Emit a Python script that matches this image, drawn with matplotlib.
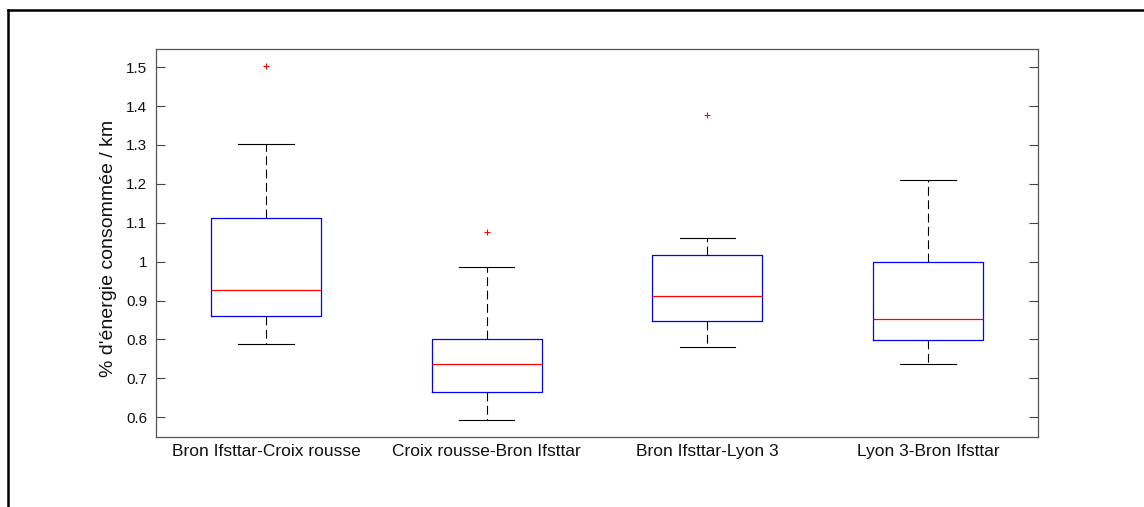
import matplotlib
matplotlib.use("Agg")
import matplotlib.pyplot as plt
from matplotlib.lines import Line2D

plt.rcParams['font.family'] = ['Liberation Sans', 'DejaVu Sans']

# Trajets et statistiques des boîtes (% d'énergie consommée / km)
trajets = ["Bron Ifsttar-Croix rousse", "Croix rousse-Bron Ifsttar",
           "Bron Ifsttar-Lyon 3", "Lyon 3-Bron Ifsttar"]
moustache_basse = [0.789, 0.594, 0.781, 0.737]
quartile_1 = [0.861, 0.666, 0.848, 0.798]
mediane = [0.927, 0.737, 0.911, 0.853]
quartile_3 = [1.113, 0.801, 1.018, 1.000]
moustache_haute = [1.302, 0.986, 1.062, 1.209]
valeurs_aberrantes = [[1.503], [1.077], [1.377], []]
yticks = [0.6, 0.7, 0.8, 0.9, 1.0, 1.1, 1.2, 1.3, 1.4, 1.5]
ytick_labels = ["0.6", "0.7", "0.8", "0.9", "1", "1.1", "1.2", "1.3", "1.4", "1.5"]

stats = []
for i, nom in enumerate(trajets):
    stats.append(dict(label=nom, whislo=moustache_basse[i], q1=quartile_1[i],
                      med=mediane[i], q3=quartile_3[i],
                      whishi=moustache_haute[i], fliers=valeurs_aberrantes[i]))

fig = plt.figure(figsize=(11.44, 5.07), dpi=100)
ax = fig.add_axes([0.1361, 0.1387, 0.7715, 0.7641])

ax.bxp(stats, positions=[1, 2, 3, 4], widths=0.5,
       boxprops=dict(color='#0000ff', linewidth=0.9),
       medianprops=dict(color='#ff0000', linewidth=0.9),
       whiskerprops=dict(color='black', linewidth=0.8, linestyle=(0, (8, 4))),
       capprops=dict(color='black', linewidth=0.8),
       flierprops=dict(marker='+', markeredgecolor='#ff0000', markersize=5,
                       markeredgewidth=0.8, linestyle='none'),
       capwidths=0.25)

ax.set_xlim(0.5, 4.5)
ax.set_ylim(0.55, 1.546)
ax.set_yticks(yticks)
ax.set_yticklabels(ytick_labels)
ax.set_xticks([1, 2, 3, 4])
ax.set_xticklabels(trajets)
ax.tick_params(axis='y', direction='in', length=6.5, width=0.8, color='#444444',
               labelsize=11, pad=6, right=True, labelcolor='#111111')
ax.tick_params(axis='x', length=0, labelsize=12.5, pad=5, labelcolor='#111111')
for s in ax.spines.values():
    s.set_color('#555555')
    s.set_linewidth(0.9)

ax.set_ylabel("% d'énergie consommée / km", fontsize=14, color='#111111')
ax.yaxis.set_label_coords(-0.0435, 0.486)

# Cadre extérieur de la figure
W, H = 1144, 507
fig.add_artist(Line2D([7.5 / W, 7.5 / W], [0, 1 - 10 / H], transform=fig.transFigure,
                      color='black', linewidth=1.8))
fig.add_artist(Line2D([7.5 / W, 1], [1 - 10 / H, 1 - 10 / H], transform=fig.transFigure,
                      color='black', linewidth=1.8))

fig.savefig("out.png", dpi=100)
